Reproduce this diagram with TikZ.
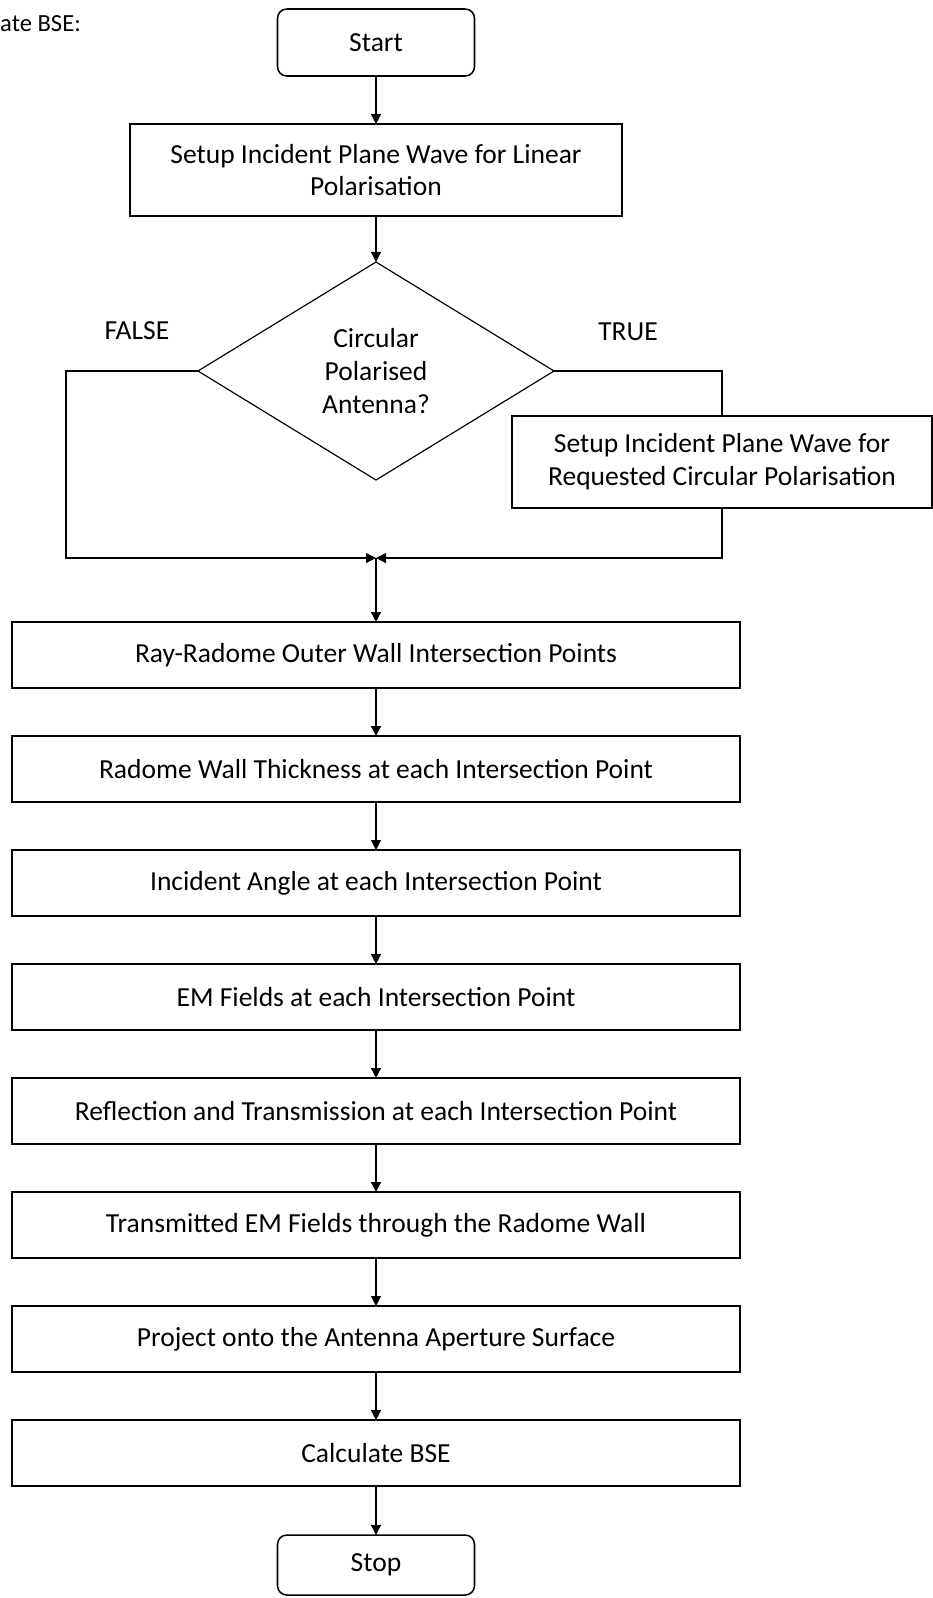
\documentclass[tikz,border=0pt]{standalone}
\usepackage{fontspec}
\setmainfont{Carlito}
\usetikzlibrary{arrows.meta,positioning,shapes.geometric}

\begin{document}
\begin{tikzpicture}[
    node distance=1.44cm,
    every node/.style={font=\fontsize{23.5}{28}\selectfont},
    box/.style={draw,line width=1.3pt,outer sep=0pt,minimum height=1.98cm,minimum width=21.84cm,align=center,inner sep=2pt},
    term/.style={draw,line width=1.3pt,outer sep=0pt,rounded corners=8pt,minimum height=2.01cm,minimum width=5.91cm},
    decide/.style={draw,diamond,line width=1pt,outer sep=0pt,minimum width=10.68cm,minimum height=6.54cm,inner sep=0pt,align=center},
    line/.style={line width=1pt},
    arr/.style={line,-{Triangle[length=0.3cm,width=0.3cm]}}
  ]
    \useasboundingbox (0,0) rectangle (27.96,-47.94);
    \node[anchor=west,inner sep=0pt,font=\fontsize{21}{25}\selectfont] (head) at (0,-0.72) {ate BSE:};
    \node[term] (start) at (11.28,-1.275) {Start};
    \node[box,below=of start,minimum width=14.76cm,minimum height=2.76cm] (setup) {Setup Incident Plane Wave for Linear\\Polarisation};
    \node[decide,below=1.38cm of setup] (dec) {Circular\\Polarised\\Antenna?};
    \node (false) at (4.11,-9.93) {FALSE};
    \node (true) at (18.84,-9.96) {TRUE};
    \node[box,minimum width=12.6cm,minimum height=2.76cm] (circ) at (21.66,-13.86) {Setup Incident Plane Wave for\\Requested Circular Polarisation};
    \coordinate[below=2.34cm of dec] (merge);
    \coordinate[left=9.3cm of merge] (fcorner);
    \node[box,below=1.92cm of merge] (ray) {Ray-Radome Outer Wall Intersection Points};
    \node[box,below=of ray] (thick) {Radome Wall Thickness at each Intersection Point};
    \node[box,below=of thick] (angle) {Incident Angle at each Intersection Point};
    \node[box,below=of angle] (fields) {EM Fields at each Intersection Point};
    \node[box,below=of fields] (refl) {Reflection and Transmission at each Intersection Point};
    \node[box,below=of refl] (trans) {Transmitted EM Fields through the Radome Wall};
    \node[box,below=of trans] (proj) {Project onto the Antenna Aperture Surface};
    \node[box,below=of proj] (calc) {Calculate BSE};
    \node[term,below=1.47cm of calc,minimum height=1.8cm] (stop) {Stop};
    \draw[arr] (start) -- (setup);
    \draw[arr] (setup) -- (dec);
    \draw[arr] (dec.west) -| (fcorner) -- (merge);
    \draw[line] (dec.east) -| (circ.north);
    \draw[arr] (circ.south) |- (merge);
    \draw[arr] (merge) -- (ray);
    \draw[arr] (ray) -- (thick);
    \draw[arr] (thick) -- (angle);
    \draw[arr] (angle) -- (fields);
    \draw[arr] (fields) -- (refl);
    \draw[arr] (refl) -- (trans);
    \draw[arr] (trans) -- (proj);
    \draw[arr] (proj) -- (calc);
    \draw[arr] (calc) -- (stop);
  \end{tikzpicture}
\end{document}
